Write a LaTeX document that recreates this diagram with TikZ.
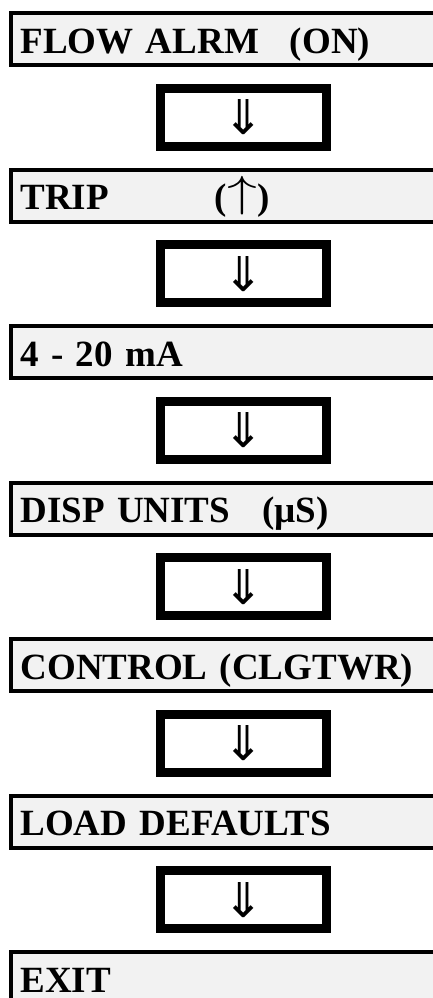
\documentclass[tikz,border=0pt]{standalone}
\usepackage{fontspec}
\setmainfont{Liberation Serif}
\newfontfamily\arrowfont{DejaVu Sans}
\usetikzlibrary{positioning}
\definecolor{Panel}{HTML}{F2F2F2}
\tikzset{
  menu/.style={draw=black,fill=Panel,line width=4pt,minimum width=465pt,
    minimum height=52pt,text width=446pt,inner xsep=9.5pt,inner ysep=0pt,align=left,
    text height=28pt,text depth=0pt,font=\fontsize{37}{40}\selectfont\bfseries},
  nextbox/.style={draw=black,fill=white,line width=9pt,minimum width=166pt,
    minimum height=58pt,inner sep=0pt,font=\fontsize{48}{50}\selectfont\arrowfont}
}
\newcommand\uparr{\raisebox{3pt}{\scalebox{2.4}[1.75]{$\uparrow$}}}
\begin{document}
\begin{tikzpicture}[node distance=16.75pt]
    \useasboundingbox (0,0) rectangle (433pt,-998pt);
    \clip (0,0) rectangle (433pt,-998pt);
    \node[menu] (alarm) at (243.5pt,-39pt) {FLOW ALRM\hspace{31pt}(ON)};
    \node[nextbox,below=of alarm] (d1) {⇓};
    \node[menu,below=of d1] (trip) {TRIP\hspace{106pt}(\uparr)};
    \node[nextbox,below=of trip] (d2) {⇓};
    \node[menu,below=of d2] (ma) {4 - 20 mA};
    \node[nextbox,below=of ma] (d3) {⇓};
    \node[menu,below=of d3] (units) {DISP UNITS\hspace{32pt}(µS)};
    \node[nextbox,below=of units] (d4) {⇓};
    \node[menu,below=of d4] (ctrl) {CONTROL (CLGTWR)};
    \node[nextbox,below=of ctrl] (d5) {⇓};
    \node[menu,below=of d5] (defaults) {LOAD DEFAULTS};
    \node[nextbox,below=of defaults] (d6) {⇓};
    \node[menu,below=of d6] (exit) {EXIT};
  \end{tikzpicture}
\end{document}
